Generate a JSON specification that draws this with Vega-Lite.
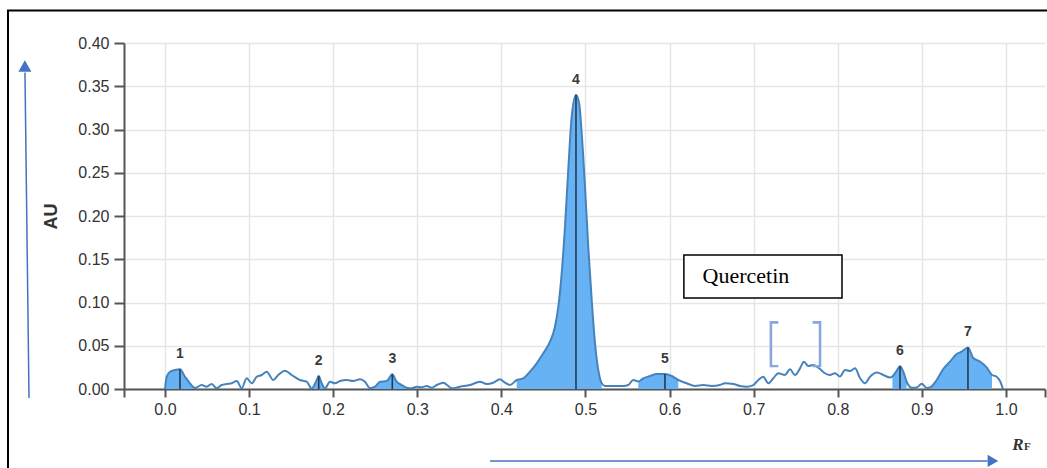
{
  "$schema": "https://vega.github.io/schema/vega-lite/v6.json",
  "width": 921,
  "height": 346,
  "autosize": "none",
  "padding": {"left": 124, "top": 43, "right": 2, "bottom": 79},
  "background": "white",
  "config": {
    "view": {"stroke": null},
    "axis": {
      "labelFont": "Liberation Sans",
      "labelFontSize": 16,
      "labelColor": "#333333",
      "domainColor": "#555555",
      "domainWidth": 2,
      "tickColor": "#555555",
      "tickWidth": 2,
      "grid": true,
      "gridColor": "#e6e6e6",
      "gridWidth": 1.5,
      "titleFont": "Liberation Sans",
      "titleColor": "#333333"
    }
  },
  "datasets": {
    "curve": [
      {"x": 0.0000, "y": 0.0000, "peak": 1},
      {"x": 0.0020, "y": 0.0142, "peak": 1},
      {"x": 0.0059, "y": 0.0200, "peak": 1},
      {"x": 0.0119, "y": 0.0220, "peak": 1},
      {"x": 0.0178, "y": 0.0228, "peak": 1},
      {"x": 0.0238, "y": 0.0142, "peak": 1},
      {"x": 0.0297, "y": 0.0066, "peak": 1},
      {"x": 0.0357, "y": 0.0012, "peak": 1},
      {"x": 0.0436, "y": 0.0046, "peak": null},
      {"x": 0.0496, "y": 0.0027, "peak": null},
      {"x": 0.0555, "y": 0.0058, "peak": null},
      {"x": 0.0615, "y": 0.0008, "peak": null},
      {"x": 0.0674, "y": 0.0046, "peak": null},
      {"x": 0.0734, "y": 0.0058, "peak": null},
      {"x": 0.0793, "y": 0.0066, "peak": null},
      {"x": 0.0853, "y": 0.0092, "peak": null},
      {"x": 0.0912, "y": 0.0008, "peak": null},
      {"x": 0.0971, "y": 0.0124, "peak": null},
      {"x": 0.1031, "y": 0.0066, "peak": null},
      {"x": 0.1090, "y": 0.0142, "peak": null},
      {"x": 0.1150, "y": 0.0162, "peak": null},
      {"x": 0.1209, "y": 0.0200, "peak": null},
      {"x": 0.1288, "y": 0.0104, "peak": null},
      {"x": 0.1347, "y": 0.0162, "peak": null},
      {"x": 0.1427, "y": 0.0212, "peak": null},
      {"x": 0.1507, "y": 0.0162, "peak": null},
      {"x": 0.1605, "y": 0.0104, "peak": null},
      {"x": 0.1685, "y": 0.0084, "peak": null},
      {"x": 0.1744, "y": 0.0008, "peak": 2},
      {"x": 0.1795, "y": 0.0084, "peak": 2},
      {"x": 0.1828, "y": 0.0150, "peak": 2},
      {"x": 0.1863, "y": 0.0066, "peak": 2},
      {"x": 0.1902, "y": 0.0008, "peak": 2},
      {"x": 0.1962, "y": 0.0084, "peak": null},
      {"x": 0.2021, "y": 0.0066, "peak": null},
      {"x": 0.2081, "y": 0.0092, "peak": null},
      {"x": 0.2161, "y": 0.0104, "peak": null},
      {"x": 0.2239, "y": 0.0092, "peak": null},
      {"x": 0.2319, "y": 0.0112, "peak": null},
      {"x": 0.2378, "y": 0.0084, "peak": null},
      {"x": 0.2438, "y": 0.0008, "peak": 3},
      {"x": 0.2497, "y": 0.0027, "peak": 3},
      {"x": 0.2556, "y": 0.0084, "peak": 3},
      {"x": 0.2636, "y": 0.0092, "peak": 3},
      {"x": 0.2703, "y": 0.0170, "peak": 3},
      {"x": 0.2755, "y": 0.0084, "peak": 3},
      {"x": 0.2815, "y": 0.0046, "peak": 3},
      {"x": 0.2874, "y": 0.0015, "peak": 3},
      {"x": 0.2933, "y": 0.0008, "peak": null},
      {"x": 0.2993, "y": 0.0027, "peak": null},
      {"x": 0.3052, "y": 0.0020, "peak": null},
      {"x": 0.3112, "y": 0.0035, "peak": null},
      {"x": 0.3171, "y": 0.0015, "peak": null},
      {"x": 0.3231, "y": 0.0046, "peak": null},
      {"x": 0.3309, "y": 0.0073, "peak": null},
      {"x": 0.3369, "y": 0.0035, "peak": null},
      {"x": 0.3409, "y": 0.0008, "peak": null},
      {"x": 0.3508, "y": 0.0027, "peak": null},
      {"x": 0.3627, "y": 0.0046, "peak": null},
      {"x": 0.3746, "y": 0.0084, "peak": null},
      {"x": 0.3825, "y": 0.0058, "peak": null},
      {"x": 0.3904, "y": 0.0073, "peak": null},
      {"x": 0.3983, "y": 0.0112, "peak": null},
      {"x": 0.4043, "y": 0.0073, "peak": null},
      {"x": 0.4102, "y": 0.0046, "peak": null},
      {"x": 0.4182, "y": 0.0104, "peak": 4},
      {"x": 0.4260, "y": 0.0124, "peak": 4},
      {"x": 0.4340, "y": 0.0200, "peak": 4},
      {"x": 0.4420, "y": 0.0297, "peak": 4},
      {"x": 0.4498, "y": 0.0413, "peak": 4},
      {"x": 0.4578, "y": 0.0547, "peak": 4},
      {"x": 0.4637, "y": 0.0720, "peak": 4},
      {"x": 0.4677, "y": 0.0951, "peak": 4},
      {"x": 0.4717, "y": 0.1337, "peak": 4},
      {"x": 0.4756, "y": 0.1876, "peak": 4},
      {"x": 0.4795, "y": 0.2532, "peak": 4},
      {"x": 0.4836, "y": 0.3148, "peak": 4},
      {"x": 0.4887, "y": 0.3399, "peak": 4},
      {"x": 0.4925, "y": 0.3300, "peak": 4},
      {"x": 0.4955, "y": 0.2956, "peak": 4},
      {"x": 0.4994, "y": 0.2339, "peak": 4},
      {"x": 0.5033, "y": 0.1645, "peak": 4},
      {"x": 0.5074, "y": 0.1029, "peak": 4},
      {"x": 0.5113, "y": 0.0528, "peak": 4},
      {"x": 0.5152, "y": 0.0220, "peak": 4},
      {"x": 0.5193, "y": 0.0066, "peak": 4},
      {"x": 0.5232, "y": 0.0035, "peak": null},
      {"x": 0.5331, "y": 0.0035, "peak": null},
      {"x": 0.5449, "y": 0.0035, "peak": null},
      {"x": 0.5509, "y": 0.0046, "peak": null},
      {"x": 0.5568, "y": 0.0104, "peak": null},
      {"x": 0.5628, "y": 0.0087, "peak": 5},
      {"x": 0.5687, "y": 0.0124, "peak": 5},
      {"x": 0.5767, "y": 0.0150, "peak": 5},
      {"x": 0.5847, "y": 0.0173, "peak": 5},
      {"x": 0.5945, "y": 0.0173, "peak": 5},
      {"x": 0.6025, "y": 0.0150, "peak": 5},
      {"x": 0.6103, "y": 0.0104, "peak": 5},
      {"x": 0.6203, "y": 0.0066, "peak": null},
      {"x": 0.6302, "y": 0.0035, "peak": null},
      {"x": 0.6401, "y": 0.0046, "peak": null},
      {"x": 0.6501, "y": 0.0035, "peak": null},
      {"x": 0.6599, "y": 0.0046, "peak": null},
      {"x": 0.6659, "y": 0.0066, "peak": null},
      {"x": 0.6757, "y": 0.0058, "peak": null},
      {"x": 0.6837, "y": 0.0035, "peak": null},
      {"x": 0.6917, "y": 0.0027, "peak": null},
      {"x": 0.6995, "y": 0.0046, "peak": null},
      {"x": 0.7055, "y": 0.0104, "peak": null},
      {"x": 0.7114, "y": 0.0142, "peak": null},
      {"x": 0.7174, "y": 0.0066, "peak": null},
      {"x": 0.7233, "y": 0.0124, "peak": null},
      {"x": 0.7293, "y": 0.0182, "peak": null},
      {"x": 0.7372, "y": 0.0162, "peak": null},
      {"x": 0.7432, "y": 0.0228, "peak": null},
      {"x": 0.7491, "y": 0.0162, "peak": null},
      {"x": 0.7551, "y": 0.0239, "peak": null},
      {"x": 0.7598, "y": 0.0316, "peak": null},
      {"x": 0.7649, "y": 0.0266, "peak": null},
      {"x": 0.7709, "y": 0.0277, "peak": null},
      {"x": 0.7788, "y": 0.0231, "peak": null},
      {"x": 0.7848, "y": 0.0182, "peak": null},
      {"x": 0.7907, "y": 0.0162, "peak": null},
      {"x": 0.7967, "y": 0.0182, "peak": null},
      {"x": 0.8026, "y": 0.0145, "peak": null},
      {"x": 0.8086, "y": 0.0220, "peak": null},
      {"x": 0.8145, "y": 0.0208, "peak": null},
      {"x": 0.8205, "y": 0.0239, "peak": null},
      {"x": 0.8264, "y": 0.0127, "peak": null},
      {"x": 0.8323, "y": 0.0066, "peak": null},
      {"x": 0.8383, "y": 0.0142, "peak": null},
      {"x": 0.8466, "y": 0.0191, "peak": null},
      {"x": 0.8541, "y": 0.0162, "peak": null},
      {"x": 0.8621, "y": 0.0133, "peak": null},
      {"x": 0.8650, "y": 0.0145, "peak": 6},
      {"x": 0.8692, "y": 0.0197, "peak": 6},
      {"x": 0.8740, "y": 0.0262, "peak": 6},
      {"x": 0.8779, "y": 0.0200, "peak": 6},
      {"x": 0.8819, "y": 0.0084, "peak": 6},
      {"x": 0.8879, "y": 0.0015, "peak": null},
      {"x": 0.8938, "y": 0.0017, "peak": null},
      {"x": 0.8998, "y": 0.0060, "peak": null},
      {"x": 0.9057, "y": 0.0012, "peak": null},
      {"x": 0.9096, "y": 0.0017, "peak": 7},
      {"x": 0.9176, "y": 0.0104, "peak": 7},
      {"x": 0.9254, "y": 0.0231, "peak": 7},
      {"x": 0.9334, "y": 0.0316, "peak": 7},
      {"x": 0.9414, "y": 0.0405, "peak": 7},
      {"x": 0.9473, "y": 0.0431, "peak": 7},
      {"x": 0.9548, "y": 0.0480, "peak": 7},
      {"x": 0.9611, "y": 0.0358, "peak": 7},
      {"x": 0.9691, "y": 0.0318, "peak": 7},
      {"x": 0.9770, "y": 0.0249, "peak": 7},
      {"x": 0.9834, "y": 0.0162, "peak": 7},
      {"x": 0.9889, "y": 0.0142, "peak": null},
      {"x": 0.9929, "y": 0.0092, "peak": null},
      {"x": 0.9964, "y": 0.0000, "peak": null}
    ],
    "peaks": [
      {"label": "1", "x": 0.0178, "y": 0.0228},
      {"label": "2", "x": 0.1828, "y": 0.0150},
      {"label": "3", "x": 0.2703, "y": 0.0170},
      {"label": "4", "x": 0.4887, "y": 0.3399},
      {"label": "5", "x": 0.5945, "y": 0.0173},
      {"label": "6", "x": 0.8740, "y": 0.0262},
      {"label": "7", "x": 0.9548, "y": 0.0480}
    ],
    "one": [{}]
  },
  "layer": [
    {
      "data": {"name": "curve"},
      "transform": [{"filter": "isValid(datum.peak)"}],
      "mark": {"type": "area", "color": "#66b2f5", "opacity": 1, "interpolate": "monotone"},
      "encoding": {
        "x": {
          "field": "x", "type": "quantitative",
          "scale": {"domain": [-0.04875, 1.0464], "nice": false, "zero": false},
          "axis": {
            "title": null,
            "grid": true,
            "values": [-0.04875, 0, 0.1, 0.2, 0.3, 0.4, 0.5, 0.6, 0.7, 0.8, 0.9, 1.0, 1.0464],
            "labelExpr": "datum.value < -0.01 || datum.value > 1.01 ? '' : format(datum.value, '.1f')",
            "gridColor": {"condition": {"test": "datum.value < -0.01 || datum.value > 1.01", "value": "transparent"}, "value": "#e6e6e6"},
            "tickSize": 8,
            "labelPadding": 4,
            "labelFlush": false,
            "labelOverlap": false
          }
        },
        "y": {
          "field": "y", "type": "quantitative", "stack": null,
          "scale": {"domain": [0, 0.4], "nice": false},
          "axis": {
            "title": "AU",
            "grid": true,
            "titleFontSize": 18,
            "titleFontWeight": "bold",
            "titlePadding": 17,
            "values": [0, 0.05, 0.1, 0.15, 0.2, 0.25, 0.3, 0.35, 0.4],
            "format": ".2f",
            "tickSize": 10,
            "labelPadding": 5,
            "labelFlush": false,
            "labelOverlap": false
          }
        },
        "detail": {"field": "peak", "type": "nominal"}
      }
    },
    {
      "data": {"name": "curve"},
      "mark": {"type": "line", "color": "#4683bd", "strokeWidth": 2, "interpolate": "monotone"},
      "encoding": {
        "x": {"field": "x", "type": "quantitative"},
        "y": {"field": "y", "type": "quantitative"}
      }
    },
    {
      "data": {"name": "peaks"},
      "mark": {"type": "rule", "color": "#263a4e", "strokeWidth": 1.6},
      "encoding": {
        "x": {"field": "x", "type": "quantitative"},
        "y": {"field": "y", "type": "quantitative"},
        "y2": {"datum": 0}
      }
    },
    {
      "data": {"name": "peaks"},
      "mark": {"type": "text", "font": "Liberation Sans", "fontSize": 14, "fontWeight": "bold", "color": "#3a3a3a", "baseline": "alphabetic", "dy": -11},
      "encoding": {
        "x": {"field": "x", "type": "quantitative"},
        "y": {"field": "y", "type": "quantitative"},
        "text": {"field": "label"}
      }
    },
    {
      "data": {"name": "one"},
      "mark": {"type": "rect", "fill": "white", "fillOpacity": 0, "stroke": "black", "strokeWidth": 2, "clip": false},
      "encoding": {
        "x": {"datum": -0.1867, "type": "quantitative"},
        "x2": {"datum": 1.3},
        "y": {"datum": 0.4376, "type": "quantitative"},
        "y2": {"datum": -0.3}
      }
    },
    {
      "data": {"name": "one"},
      "mark": {"type": "rect", "fill": "white", "stroke": "black", "strokeWidth": 1.5, "clip": false},
      "encoding": {
        "x": {"datum": 0.617, "type": "quantitative"},
        "x2": {"datum": 0.805},
        "y": {"datum": 0.1549, "type": "quantitative"},
        "y2": {"datum": 0.1052}
      }
    },
    {
      "data": {"name": "one"},
      "mark": {"type": "text", "text": "Quercetin", "font": "Liberation Serif", "fontSize": 22, "color": "black", "align": "left", "baseline": "middle"},
      "encoding": {
        "x": {"datum": 0.6392, "type": "quantitative"},
        "y": {"datum": 0.1306, "type": "quantitative"}
      }
    },
    {
      "data": {"name": "one"},
      "mark": {"type": "text", "text": "[", "font": "DejaVu Sans", "fontWeight": 200, "fontSize": 52, "color": "#89a6dd", "align": "center", "baseline": "middle"},
      "encoding": {
        "x": {"datum": 0.7241, "type": "quantitative"},
        "y": {"datum": 0.0515, "type": "quantitative"}
      }
    },
    {
      "data": {"name": "one"},
      "mark": {"type": "text", "text": "]", "font": "DejaVu Sans", "fontWeight": 200, "fontSize": 52, "color": "#89a6dd", "align": "center", "baseline": "middle"},
      "encoding": {
        "x": {"datum": 0.7753, "type": "quantitative"},
        "y": {"datum": 0.0515, "type": "quantitative"}
      }
    },
    {
      "data": {"name": "one"},
      "mark": {"type": "rule", "color": "#4472c4", "strokeWidth": 1.5, "clip": false},
      "encoding": {
        "x": {"datum": -0.1617, "type": "quantitative"},
        "x2": {"datum": -0.1665},
        "y": {"datum": -0.0104, "type": "quantitative"},
        "y2": {"datum": 0.366}
      }
    },
    {
      "data": {"name": "one"},
      "mark": {"type": "point", "shape": "triangle-up", "filled": true, "size": 170, "color": "#4472c4", "opacity": 1, "clip": false},
      "encoding": {
        "x": {"datum": -0.1666, "type": "quantitative"},
        "y": {"datum": 0.3734, "type": "quantitative"}
      }
    },
    {
      "data": {"name": "one"},
      "mark": {"type": "rule", "color": "#4472c4", "strokeWidth": 1.5, "clip": false},
      "encoding": {
        "x": {"datum": 0.3865, "type": "quantitative"},
        "x2": {"datum": 0.978},
        "y": {"datum": -0.0832, "type": "quantitative"},
        "y2": {"datum": -0.0832}
      }
    },
    {
      "data": {"name": "one"},
      "mark": {"type": "point", "shape": "triangle-right", "filled": true, "size": 150, "color": "#4472c4", "opacity": 1, "clip": false},
      "encoding": {
        "x": {"datum": 0.9845, "type": "quantitative"},
        "y": {"datum": -0.0832, "type": "quantitative"}
      }
    },
    {
      "data": {"name": "one"},
      "mark": {"type": "text", "text": "R", "font": "Liberation Serif", "fontStyle": "italic", "fontWeight": "bold", "fontSize": 17, "color": "#333333", "align": "left", "baseline": "alphabetic"},
      "encoding": {
        "x": {"datum": 1.0075, "type": "quantitative"},
        "y": {"datum": -0.0705, "type": "quantitative"}
      }
    },
    {
      "data": {"name": "one"},
      "mark": {"type": "text", "text": "F", "font": "Liberation Serif", "fontWeight": "bold", "fontSize": 11, "color": "#333333", "align": "left", "baseline": "alphabetic"},
      "encoding": {
        "x": {"datum": 1.0215, "type": "quantitative"},
        "y": {"datum": -0.0705, "type": "quantitative"}
      }
    }
  ]
}
